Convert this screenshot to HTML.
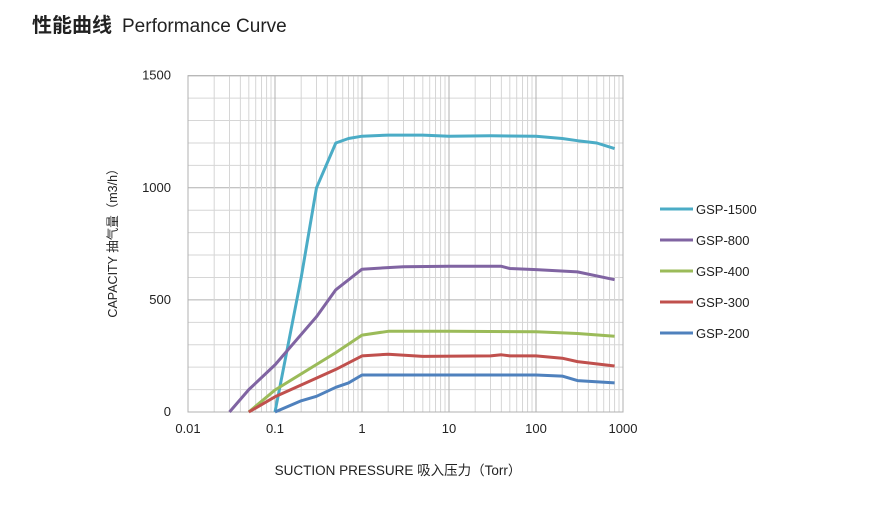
<!DOCTYPE html>
<html><head><meta charset="utf-8"><style>
body{margin:0;background:#fff;width:885px;height:505px;overflow:hidden;font-family:"Liberation Sans","Noto Sans CJK SC",sans-serif}
</style></head><body>
<svg id="chart" width="885" height="505" xmlns="http://www.w3.org/2000/svg" font-family="Liberation Sans, Noto Sans CJK SC, sans-serif">
<text x="32" y="32" font-size="20" fill="#222"><tspan font-weight="bold">性能曲线</tspan><tspan dx="10" font-size="19">Performance Curve</tspan></text>
<g id="grid"></g><g id="series"></g><g id="labels"></g>
<text transform="translate(117,240) rotate(-90)" text-anchor="middle" font-size="12.5" fill="#222">CAPACITY 抽气量（m3/h）</text>
<text x="398" y="475" text-anchor="middle" font-size="13.5" fill="#222">SUCTION PRESSURE 吸入压力（Torr）</text>
<g id="legend"></g>
</svg>
<script>
const seriesNames=["GSP-1500","GSP-800","GSP-400","GSP-300","GSP-200"];
const seriesColors=["#4bacc6","#8064a2","#9bbb59","#c0504d","#4f81bd"];
const x1500=[0.1,0.2,0.3,0.5,0.7,1,2,5,10,30,100,200,300,500,800];
const y1500=[0,600,1000,1200,1220,1230,1235,1235,1230,1232,1230,1220,1210,1200,1175];
const x800=[0.03,0.05,0.1,0.3,0.5,1,3,10,40,50,100,300,800];
const y800=[0,100,210,425,545,637,648,650,650,640,635,625,590];
const x400=[0.05,0.1,0.5,1,2,10,100,300,800];
const y400=[0,98,265,343,360,360,358,350,338];
const x300=[0.05,0.1,0.5,1,2,5,30,40,50,100,200,300,800];
const y300=[0,68,190,250,258,248,250,255,250,250,240,225,205];
const x200=[0.1,0.2,0.3,0.5,0.7,1,10,100,200,300,800];
const y200=[0,50,70,110,130,165,165,165,160,140,130];
const xTicks=[0.01,0.1,1,10,100,1000];
const yTicks=[0,500,1000,1500];
const X0=188,X1=623,Y0=412,Y1=75.7;
function xs(v){return X0+(Math.log10(v)+2)/5*(X1-X0);}
function ys(v){return Y0-v/1500*(Y0-Y1);}
const NS="http://www.w3.org/2000/svg";
function mk(tag,attrs,parent){const e=document.createElementNS(NS,tag);for(const k in attrs)e.setAttribute(k,attrs[k]);parent.appendChild(e);return e;}
const grid=document.getElementById('grid'),ser=document.getElementById('series'),lab=document.getElementById('labels'),leg=document.getElementById('legend');
for(let v=0;v<=1500;v+=100){const l=mk('line',{x1:X0,x2:X1,y1:ys(v),y2:ys(v),stroke:v%500==0?'#b0b0b0':'#d6d6d6','stroke-width':1},grid);

}
for(let d=-2;d<3;d++)for(let m=1;m<10;m++){const v=m*Math.pow(10,d);const l=mk('line',{x1:xs(v),x2:xs(v),y1:Y1,y2:Y0,stroke:m==1?'#b0b0b0':'#d6d6d6','stroke-width':1},grid);

}
const b=mk('rect',{x:X0,y:Y1,width:X1-X0,height:Y0-Y1,fill:'none',stroke:'#b0b0b0'},grid);


xTicks.forEach(t=>{const e=mk('text',{x:xs(t),y:433,'text-anchor':'middle','font-size':13,fill:'#222'},lab);e.textContent=t;

});
yTicks.forEach(t=>{const e=mk('text',{x:171,y:ys(t)+4,'text-anchor':'end','font-size':13,fill:'#222'},lab);e.textContent=t;

});
const xsArr=[x1500,x800,x400,x300,x200],ysArr=[y1500,y800,y400,y300,y200];
seriesNames.forEach((n,i)=>{const pts=xsArr[i].map((x,j)=>xs(x).toFixed(1)+','+ys(ysArr[i][j]).toFixed(1)).join(' ');
const p=mk('polyline',{points:pts,fill:'none',stroke:seriesColors[i],'stroke-width':3,'stroke-linejoin':'round'},ser);


const y=209+i*31;
const l=mk('line',{x1:660,x2:693,y1:y,y2:y,stroke:seriesColors[i],'stroke-width':3},leg);


const t=mk('text',{x:696,y:y+5,'font-size':13,fill:'#222'},leg);t.textContent=n;

});
</script>
</body></html>
